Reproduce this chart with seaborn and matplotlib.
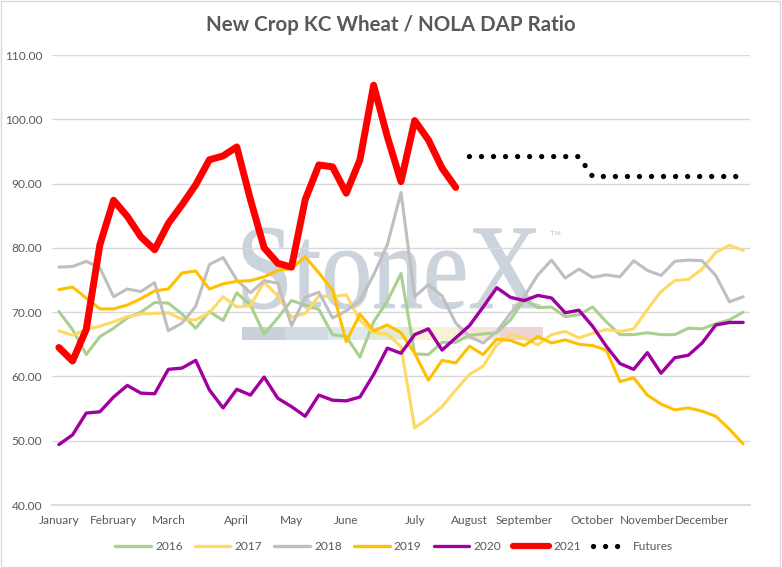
import numpy as np
import pandas as pd
import matplotlib
matplotlib.use("Agg")
import matplotlib.pyplot as plt
from matplotlib.lines import Line2D
from matplotlib.patches import Rectangle, PathPatch
from matplotlib.textpath import TextPath
from matplotlib.font_manager import FontProperties
from matplotlib.transforms import Affine2D
import seaborn as sns

# ---------------- data ----------------
month_labels = ["January", "February", "March", "April", "May", "June", "July",
                "August", "September", "October", "November", "December"]
month_weeks = [0, 4, 8, 13, 17, 21, 26, 30, 34, 39, 43, 47]

y2016 = [70.1, 67.3, 63.4, 66.2, 67.5, 69.1, 70.0, 71.5, 71.4, 69.7,
         67.5, 70.1, 68.7, 73.0, 71.1, 66.6, 69.1, 71.8, 71.1, 70.4,
         66.5, 66.2, 63.0, 68.5, 71.7, 76.0, 63.5, 63.4, 65.3, 65.3,
         66.4, 66.6, 66.8, 68.8, 72.0, 70.7, 70.8, 69.3, 69.6, 70.8,
         68.5, 66.5, 66.5, 66.8, 66.5, 66.5, 67.5, 67.4, 68.2, 68.8, 70.0]
y2017 = [67.1, 66.4, 67.3, 67.8, 68.5, 69.3, 69.7, 69.8, 69.9, 68.9,
         68.8, 69.9, 72.4, 70.8, 71.0, 74.7, 72.5, 69.2, 69.8, 72.5,
         72.4, 72.7, 68.7, 66.8, 66.6, 64.6, 52.0, 53.5, 55.3, 57.9,
         60.3, 61.6, 64.9, 66.5, 66.0, 64.9, 66.5, 67.0, 66.0, 66.7,
         67.3, 67.0, 67.4, 70.4, 73.2, 74.9, 75.1, 76.7, 79.3, 80.4, 79.6]
y2018 = [77.0, 77.1, 77.9, 76.9, 72.4, 73.6, 73.2, 74.6, 67.1, 68.3,
         70.9, 77.4, 78.5, 75.0, 73.0, 74.9, 74.5, 67.9, 72.3, 73.1,
         69.1, 70.2, 71.8, 75.8, 80.5, 88.6, 72.4, 74.3, 72.5, 68.3,
         66.2, 65.2, 67.0, 69.8, 72.4, 75.8, 78.1, 75.3, 76.7, 75.4,
         75.8, 75.5, 78.0, 76.5, 75.7, 77.9, 78.1, 78.0, 75.7, 71.6, 72.4]
y2019 = [73.5, 73.9, 72.2, 70.5, 70.5, 71.1, 72.1, 73.3, 73.6, 76.1,
         76.4, 73.6, 74.4, 74.8, 74.9, 75.5, 76.5, 76.8, 78.6, 76.1,
         73.4, 65.4, 69.7, 67.1, 68.0, 66.8, 63.6, 59.4, 62.5, 62.1,
         64.7, 63.4, 65.8, 65.6, 64.8, 66.2, 65.2, 65.7, 65.0, 64.8,
         64.1, 59.2, 59.8, 57.1, 55.7, 54.8, 55.1, 54.6, 53.8, 51.8, 49.5]
y2020 = [49.4, 50.9, 54.3, 54.5, 56.8, 58.6, 57.4, 57.3, 61.1, 61.3,
         62.5, 57.9, 55.1, 58.0, 57.1, 59.9, 56.6, 55.3, 53.8, 57.1,
         56.3, 56.2, 56.8, 60.3, 64.4, 63.6, 66.5, 67.4, 64.1, 66.0,
         67.9, 70.8, 73.8, 72.3, 71.8, 72.6, 72.2, 69.9, 70.3, 67.8,
         64.7, 62.0, 61.1, 63.7, 60.5, 62.9, 63.3, 65.2, 68.0, 68.4, 68.4]
y2021 = [64.5, 62.4, 67.3, 80.5, 87.4, 84.9, 81.7, 79.7, 83.8, 86.7,
         89.8, 93.7, 94.3, 95.7, 87.5, 80.0, 77.6, 77.0, 87.5, 92.9,
         92.6, 88.5, 93.7, 105.3, 97.3, 90.3, 99.8, 96.8, 92.4, 89.4]
futures_weeks = list(range(30, 51))
futures = [94.2, 94.2, 94.2, 94.2, 94.2, 94.2, 94.2, 94.2, 94.2,
           91.1, 91.1, 91.1, 91.1, 91.1, 91.1, 91.1, 91.1, 91.1, 91.1, 91.1, 91.1]

series_names = ["2016", "2017", "2018", "2019", "2020", "2021"]
series_vals = [y2016, y2017, y2018, y2019, y2020, y2021]
colors = {"2016": "#A9D18E", "2017": "#FFD966", "2018": "#BFBFBF",
          "2019": "#FFC000", "2020": "#A100A1", "2021": "#FF0000"}
widths = {"2016": 2.2, "2017": 2.2, "2018": 2.2, "2019": 2.2, "2020": 2.4, "2021": 5.0}

# ---------------- style ----------------
sns.set_theme(style="white")
plt.rcParams["font.family"] = ["Lato", "DejaVu Sans"]
text_col = "#595959"

fig = plt.figure(figsize=(7.82, 5.68), dpi=100)
ax = fig.add_axes([52 / 782, 1 - 505 / 568, 698 / 782, 450 / 568])

# watermark (scaled text outline)
wm_col = "#CBD3DD"
tp = TextPath((0, 0), "StoneX", size=1, prop=FontProperties(family="Liberation Serif"))
bb = tp.get_extents()
sx = 297 / bb.width / 100
sy = 81 / bb.height / 100
tr = (Affine2D().translate(-bb.x0, -bb.y0).scale(sx, sy)
      .translate(243 / 100, (568 - 309) / 100) + fig.dpi_scale_trans)
ax.add_patch(PathPatch(tp, transform=tr, facecolor=wm_col, edgecolor=wm_col, lw=0.8,
                       zorder=0.5, clip_on=False))
fig.text(555 / 782, 1 - 238 / 568, "\u2122", ha="center", va="center",
         fontsize=11, color=wm_col, zorder=0.5)
band_edges = [241.7, 285, 328.3, 368.3, 413.3, 456.7, 500, 543.3]
band_cols = ["#C9D0D9", "#D2DAE3", "#DDE8F0", "#E1EAD9", "#F7F1D6", "#F5E7D6", "#EED4D7"]
for i, c in enumerate(band_cols):
    x0 = (band_edges[i] - 52) / 698
    w = (band_edges[i + 1] - band_edges[i]) / 698
    ax.add_patch(Rectangle((x0, (505 - 340) / 450), w, 13 / 450, transform=ax.transAxes,
                           facecolor=c, edgecolor="none", zorder=0.5))

# series
for name, vals in zip(series_names, series_vals):
    wk = np.arange(len(vals))
    sns.lineplot(x=wk, y=vals, color=colors[name], linewidth=widths[name], ax=ax,
                 zorder=3, solid_joinstyle="round", solid_capstyle="round")
sns.lineplot(x=futures_weeks, y=futures, color="black", linewidth=3.8, ax=ax,
             linestyle=(0, (0.01, 2.27)), dash_capstyle="round", zorder=4)

ax.set_xlim(-0.5, 50.5)
ax.set_ylim(40, 110)
ax.set_yticks(np.arange(40, 111, 10))
ax.set_yticklabels([f"{v:.2f}" for v in np.arange(40, 111, 10)])
ax.set_xticks(month_weeks)
ax.set_xticklabels(month_labels)
ax.tick_params(axis="both", length=0, labelsize=8.6, labelcolor=text_col)
ax.tick_params(axis="y", pad=7)
ax.tick_params(axis="x", pad=7)
ax.grid(axis="y", color="#D9D9D9", linewidth=1, zorder=0)
ax.set_axisbelow(True)
for s in ["left", "right", "top"]:
    ax.spines[s].set_visible(False)
ax.spines["bottom"].set_color("#D9D9D9")
ax.set_xlabel("")
ax.set_ylabel("")

# title
fig.text(0.5, 1 - 25 / 568, "New Crop KC Wheat / NOLA DAP Ratio", ha="center", va="center",
         fontsize=14.8, fontweight="bold", color=text_col)

# legend
handles = [Line2D([], [], color=colors[n], lw=(2.4 if n != "2021" else 4.5)) for n in series_names]
handles.append(Line2D([], [], color="black", lw=3.8, linestyle=(0, (0.01, 2.27)),
                      dash_capstyle="round"))
labels = series_names + ["Futures"]
leg = fig.legend(handles, labels, loc="center", bbox_to_anchor=(394 / 782, 1 - 547 / 568),
                 ncol=7, frameon=False, fontsize=8.6, labelcolor=text_col, handlelength=3.0,
                 handletextpad=0.35, columnspacing=1.0)

# chart border
fig.add_artist(Rectangle((0.001, 0.002), 0.997, 0.996, transform=fig.transFigure,
                         fill=False, edgecolor="#D9D9D9", lw=1))

fig.savefig("out.png", dpi=100)
